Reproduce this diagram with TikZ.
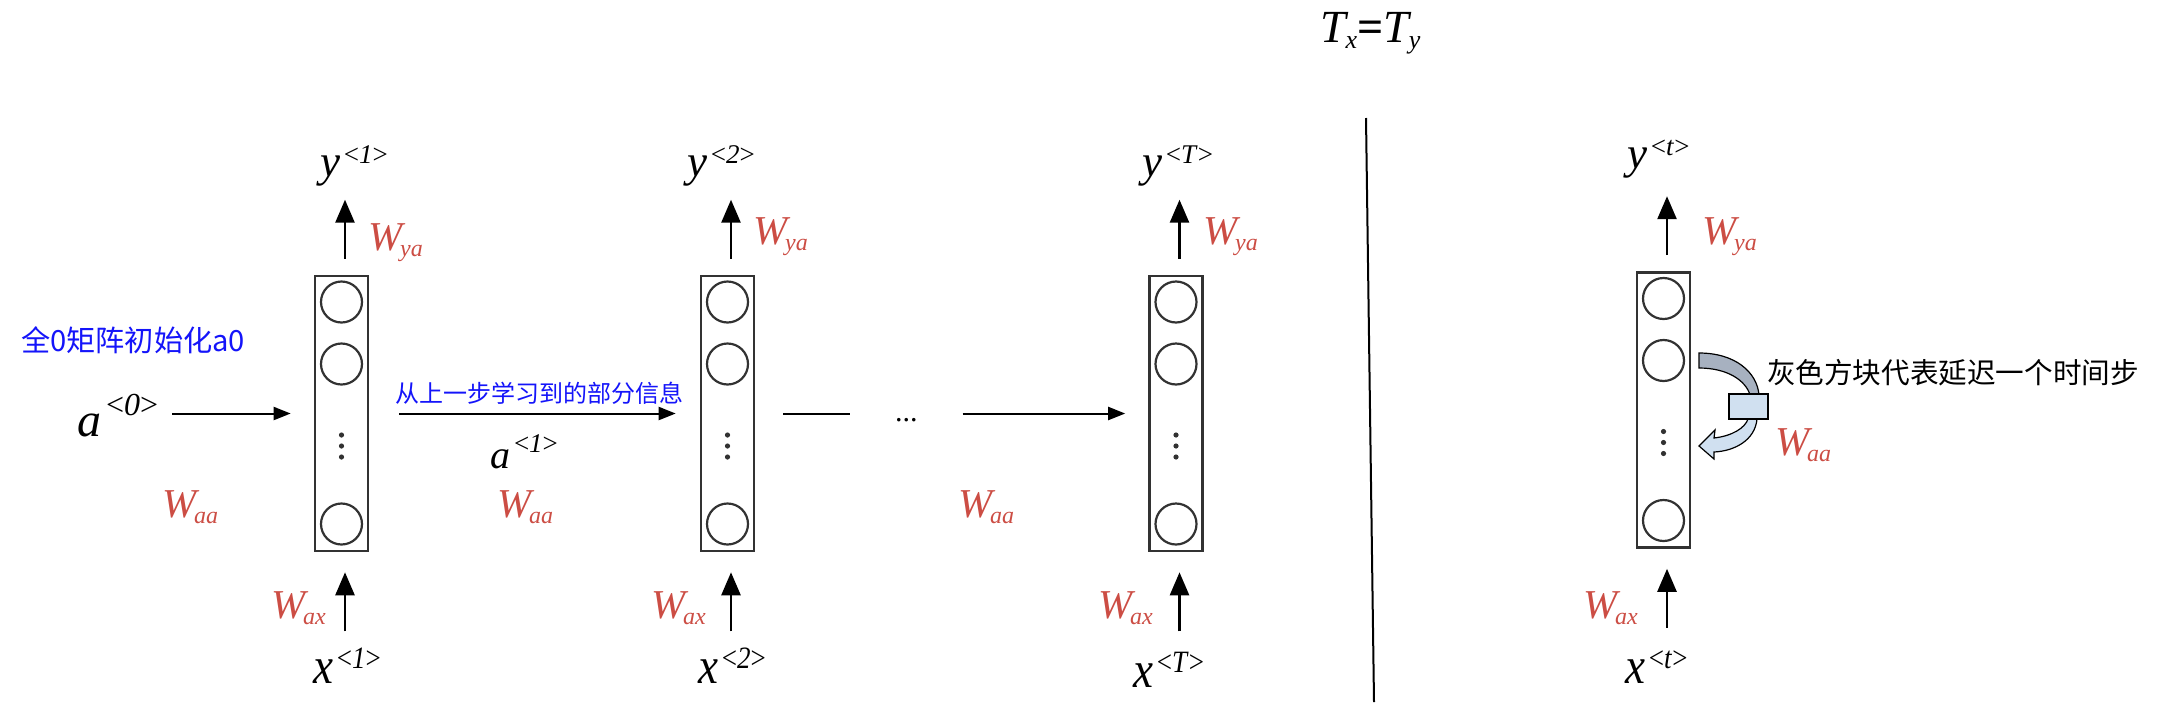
\documentclass[tikz,border=0pt]{standalone}
\usepackage{fontspec}
\usepackage{graphicx}
\setmainfont{Liberation Serif}
\newfontfamily\cjk{Noto Sans CJK SC}
\usetikzlibrary{arrows.meta}
\definecolor{wred}{RGB}{204,77,68}
\definecolor{cjkblue}{RGB}{20,20,250}
\definecolor{delaygray}{RGB}{167,177,192}
\definecolor{delayblue}{RGB}{208,224,240}
\definecolor{boxgray}{RGB}{50,50,50}
\newcommand\angl[1]{\textup{<}#1\textup{>}}
\newcommand\ylab[2]{{\fontsize{22.5}{24}\selectfont\itshape #1}\hspace{2pt}\raisebox{6.5pt}{\fontsize{13.5}{14}\selectfont\itshape\angl{#2}}}
\newcommand\xlab[2]{\scalebox{1}[1.15]{\ylab{#1}{#2}}}
\newcommand\wlab[1]{{\color{wred}{\fontsize{20.5}{22}\selectfont\itshape W}\kern-1pt\raisebox{-3pt}{\fontsize{12}{12}\selectfont\itshape #1}}}
\newcommand\rnncell[3]{%
  \node[cellbox] (#1) at (#2,#3) {};
  \node[neuron] (#1n1) at (#2,#3-111.5) {};
  \node[neuron] (#1n2) at (#2,#3-49.5) {};
  \node[neuron] (#1n3) at (#2,#3+110.5) {};
  \foreach \d in {21.5,32.5,43.5} \fill[boxgray] (#2,#3+\d) circle[radius=1.3pt];
  \draw[uparrow] ([xshift=1.75pt,yshift=8pt]#1.north) -- ([xshift=1.75pt,yshift=37.5pt]#1.north);
  \draw[uparrow] ([xshift=1.75pt,yshift=-39.5pt]#1.south) -- ([xshift=1.75pt,yshift=-10pt]#1.south);
}
\begin{document}
\begin{tikzpicture}[x=0.5pt,y=-0.5pt,
  cellbox/.style={draw=boxgray,line width=1.3pt,minimum width=26.5pt,minimum height=137.5pt,inner sep=0pt},
  neuron/.style={circle,draw=boxgray,line width=1.1pt,minimum size=20.5pt,inner sep=0pt},
  uparrow/.style={line width=1.3pt,-{Triangle[length=11.5pt,width=9.5pt]}},
  harrow/.style={line width=1pt,-{Triangle[length=8.5pt,width=6.5pt]}},
  hline/.style={line width=1pt},
  lab/.style={inner sep=0pt,outer sep=0pt,anchor=base west},
  cjklab/.style={inner sep=0pt,outer sep=0pt,anchor=west},
  divider/.style={line width=1pt},
  delayshape/.style={draw=black,line width=0.6pt}]
\fill[white] (0,0) rectangle (2178,702);
\useasboundingbox (0,0) rectangle (2178,702);

% title
\node[lab] (title) at (1320,42) {{\fontsize{23}{24}\selectfont\itshape T}\raisebox{-3pt}{\fontsize{13}{14}\selectfont\itshape x}{\fontsize{23}{24}\selectfont\bfseries =}{\fontsize{23}{24}\selectfont\itshape T}\raisebox{-3pt}{\fontsize{13}{14}\selectfont\itshape y}};

% cells
\rnncell{b1}{341.5}{413.5}
\rnncell{b2}{727.5}{413.5}
\rnncell{b3}{1176}{413.5}
\rnncell{b4}{1663.5}{410}

% cell labels
\node[lab] (y1) at (320,176) {\ylab{y}{1}};
\node[lab] (wya1) at (368,250) {\wlab{ya}};
\node[lab] (wax1) at (271,618) {\wlab{ax}};
\node[lab] (x1) at (313,683) {\xlab{x}{1}};

\node[lab] (y2) at (687,176) {\ylab{y}{2}};
\node[lab] (wya2) at (753,244) {\wlab{ya}};
\node[lab] (wax2) at (651,618) {\wlab{ax}};
\node[lab] (x2) at (698,683) {\xlab{x}{2}};

\node[lab] (y3) at (1142,176) {\ylab{y}{T}};
\node[lab] (wya3) at (1203,244) {\wlab{ya}};
\node[lab] (wax3) at (1098,618) {\wlab{ax}};
\node[lab] (x3) at (1133,687) {\xlab{x}{T}};

\node[lab] (y4) at (1627,168) {\ylab{y}{t}};
\node[lab] (wya4) at (1702,244) {\wlab{ya}};
\node[lab] (wax4) at (1583,618) {\wlab{ax}};
\node[lab] (x4) at (1625,683) {\xlab{x}{t}};

% horizontal flow
\node[lab] (a0) at (77,436) {{\fontsize{24}{26}\selectfont\itshape a}\hspace{2.5pt}\raisebox{10.5pt}{\fontsize{16}{16}\selectfont\itshape\angl{0}}};
\node[lab] (a1) at (490,468) {{\fontsize{20}{22}\selectfont\itshape a}\hspace{2pt}\raisebox{8pt}{\fontsize{13.5}{14}\selectfont\itshape\angl{1}}};
\node[lab] (waa1) at (162,517) {\wlab{aa}};
\node[lab] (waa2) at (497,517) {\wlab{aa}};
\node[lab] (waa3) at (958,517) {\wlab{aa}};
\node[lab] (waa4) at (1775,455) {\wlab{aa}};
\node[lab] (dots) at (895,421) {\fontsize{15}{16}\selectfont ...};

\draw[harrow] ([xshift=7pt]a0.east |- b1.west) -- ([xshift=-11.5pt]b1.west);
\draw[harrow] ([xshift=15pt]b1.east) -- ([xshift=-12pt]b2.west);
\draw[hline] ([xshift=14pt]b2.east) -- ([xshift=-22.5pt]dots.west |- b2.east);
\draw[harrow] ([xshift=22.5pt]dots.east |- b3.west) -- ([xshift=-11.5pt]b3.west);

% annotations
\node[cjklab,text=cjkblue] (init) at (21,340) {\cjk\fontsize{14.6}{16}\selectfont 全0矩阵初始化a0};
\node[cjklab,text=cjkblue] (learn) at (395,393) {\cjk\fontsize{12}{14}\selectfont 从上一步学习到的部分信息};
\node[cjklab] (delay) at (1767,373) {\cjk\fontsize{14.3}{16}\selectfont 灰色方块代表延迟一个时间步};

% divider
\coordinate (dtop) at (1366,118);
\coordinate (dbot) at (1374,702);
\draw[divider] (dtop) -- (dbot);

% delay loop on the last cell
\draw[delayshape,fill=delaygray] (1699,353) .. controls (1735,353) and (1757,372) .. (1759,395)
  -- (1750,395) .. controls (1746,381) and (1728,368) .. (1699,368) -- cycle;
\draw[delayshape,fill=delayblue] (1748,419) .. controls (1745,428) and (1732,436) .. (1714,438)
  -- (1715,430) -- (1699,446) -- (1714,459) -- (1714,452)
  .. controls (1735,451) and (1755,440) .. (1757,419) -- cycle;
\node[draw=black,line width=0.8pt,fill=delayblue,minimum width=19.5pt,minimum height=12.5pt,inner sep=0pt] (delaybox) at (1748.5,406.5) {};
\end{tikzpicture}
\end{document}
